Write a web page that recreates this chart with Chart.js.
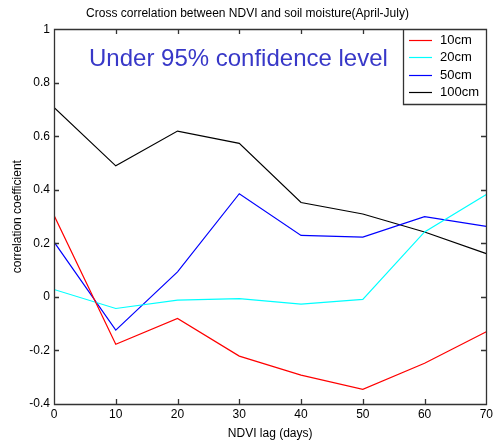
<!DOCTYPE html>
<html>
<head>
<meta charset="utf-8">
<script src="https://cdn.jsdelivr.net/npm/chart.js@4.4.1/dist/chart.umd.min.js"></script>
<style>
  html, body { margin: 0; padding: 0; background: #fff; }
  #wrap { width: 496px; height: 446px; }
</style>
</head>
<body>
<div id="wrap"><canvas id="c" width="496" height="446"></canvas></div>
<script>
// NDVI lag in days
const lags = [0, 10, 20, 30, 40, 50, 60, 70]
const xTicks = [0, 10, 20, 30, 40, 50, 60, 70]
const yTicks = [-0.4, -0.2, 0, 0.2, 0.4, 0.6, 0.8, 1]

// correlation per soil depth
const cm10 = [0.305, -0.177, -0.080, -0.221, -0.292, -0.345, -0.248, -0.130]
const cm20 = [0.028, -0.043, -0.012, -0.006, -0.027, -0.009, 0.243, 0.383]
const cm50 = [0.206, -0.124, 0.094, 0.386, 0.230, 0.224, 0.300, 0.264]
const cm100 = [0.708, 0.490, 0.620, 0.574, 0.353, 0.310, 0.243, 0.162]

const depthNames = ['10cm', '20cm', '50cm', '100cm']
const depthColors = ['#ff0000', '#00ffff', '#0000ff', '#000000']

const FONT = 'Arial, "Liberation Sans", sans-serif'
const FRAME = '#333333'

const series = [cm10, cm20, cm50, cm100]
const datasets = series.map((vals, i) => ({
  label: depthNames[i],
  data: lags.map((x, j) => ({ x: x, y: vals[j] })),
  borderColor: depthColors[i],
  borderWidth: 1.2,
  pointRadius: 0,
  tension: 0,
  fill: false,
}))

const whiteBg = {
  id: 'whiteBg',
  beforeDraw(chart) {
    const ctx = chart.ctx
    ctx.save()
    ctx.fillStyle = '#ffffff'
    ctx.fillRect(0, 0, chart.width, chart.height)
    ctx.restore()
  }
}

// note, legend, then the matlab-ish box with inward ticks on all sides
const matlabBox = {
  id: 'matlabBox',
  afterDraw(chart) {
    const ctx = chart.ctx
    const a = chart.chartArea
    const sx = chart.scales.x, sy = chart.scales.y
    const L = Math.round(a.left), T = Math.round(a.top)
    const R = Math.round(a.right), B = Math.round(a.bottom)
    const t = 5
    ctx.save()

    ctx.fillStyle = '#3838c8'
    ctx.font = '24px ' + FONT
    ctx.textBaseline = 'alphabetic'
    ctx.textAlign = 'left'
    ctx.fillText('Under 95% confidence level', 89, 66)

    // legend
    const lx = 403, lw = R - lx, lh = 75
    ctx.fillStyle = '#fff'
    ctx.fillRect(lx, T, lw, lh)
    ctx.lineWidth = 1.2
    ctx.font = '13px ' + FONT
    ctx.textBaseline = 'middle'
    depthNames.forEach((name, i) => {
      const y = Math.round(T + 11 + i * 17.4) + 0.5
      ctx.strokeStyle = depthColors[i]
      ctx.beginPath()
      ctx.moveTo(409, y)
      ctx.lineTo(432, y)
      ctx.stroke()
      ctx.fillStyle = '#000'
      ctx.fillText(name, 440, y)
    })

    // frame and ticks
    ctx.lineWidth = 1.3
    ctx.strokeStyle = FRAME
    ctx.beginPath()
    ctx.moveTo(L + 0.5, T + 0.5)
    ctx.lineTo(R + 0.5, T + 0.5)
    ctx.lineTo(R + 0.5, B + 0.5)
    ctx.lineTo(L + 0.5, B + 0.5)
    ctx.closePath()
    ctx.moveTo(lx + 0.5, T + 0.5)
    ctx.lineTo(lx + 0.5, T + lh + 0.5)
    ctx.lineTo(R + 0.5, T + lh + 0.5)
    xTicks.forEach(v => {
      const px = Math.round(sx.getPixelForValue(v)) + 0.5
      ctx.moveTo(px, B)
      ctx.lineTo(px, B - t)
      if (px < lx) {
        ctx.moveTo(px, T)
        ctx.lineTo(px, T + t)
      }
    })
    yTicks.forEach(v => {
      const py = Math.round(sy.getPixelForValue(v)) + 0.5
      ctx.moveTo(L, py)
      ctx.lineTo(L + t, py)
      if (py > T + lh) {
        ctx.moveTo(R, py)
        ctx.lineTo(R - t, py)
      }
    })
    ctx.stroke()
    ctx.restore()
  }
}

new Chart(document.getElementById('c'), {
  type: 'line',
  data: { datasets: datasets },
  plugins: [whiteBg, matlabBox],
  options: {
    responsive: false,
    animation: false,
    layout: { padding: { left: 0, right: 1, top: 0, bottom: 0 } },
    plugins: {
      legend: { display: false },
      tooltip: { enabled: false },
      title: {
        display: true,
        text: 'Cross correlation between NDVI and soil moisture(April-July)',
        color: '#000',
        font: { family: FONT, size: 12, weight: 'normal' },
        padding: { top: 6, bottom: 9 },
      },
    },
    scales: {
      x: {
        type: 'linear',
        min: 0,
        max: 70,
        afterBuildTicks: s => { s.ticks = xTicks.map(v => ({ value: v })) },
        afterFit: s => { s.height = 42 },
        grid: { display: false, drawTicks: false },
        border: { display: false },
        ticks: { color: '#000', font: { family: FONT, size: 12 }, padding: 3, maxRotation: 0 },
        title: {
          display: true,
          text: 'NDVI lag (days)',
          color: '#000',
          font: { family: FONT, size: 12 },
          padding: { top: 2, bottom: 5 },
        },
      },
      y: {
        type: 'linear',
        min: -0.4,
        max: 1,
        afterBuildTicks: s => { s.ticks = yTicks.map(v => ({ value: v })) },
        afterFit: s => { s.width = 54 },
        grid: { display: false, drawTicks: false },
        border: { display: false },
        ticks: {
          color: '#000',
          font: { family: FONT, size: 12 },
          padding: 4,
          callback: v => String(Math.round(v * 10) / 10),
        },
        title: {
          display: true,
          text: 'correlation coefficient',
          color: '#000',
          font: { family: FONT, size: 12 },
          padding: { top: 10, bottom: 0 },
        },
      },
    },
  },
})
</script>
</body>
</html>
